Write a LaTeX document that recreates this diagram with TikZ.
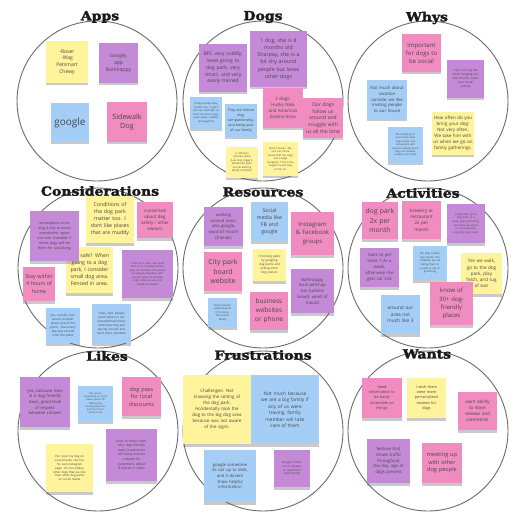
\documentclass[tikz,border=0pt]{standalone}
\usepackage{fontspec}
\usetikzlibrary{shadows}
\newfontfamily\notefont{Open Sans}
\newfontfamily\titlefont[FakeStretch=1.12, FakeBold=2.2]{DejaVu Serif}

\definecolor{noteyellow}{RGB}{255,243,155}
\definecolor{notepurple}{RGB}{197,138,215}
\definecolor{noteblue}{RGB}{165,206,246}
\definecolor{notepink}{RGB}{240,140,192}

\tikzset{
  ring/.style={circle, draw=black!58, line width=0.9pt, inner sep=0pt, minimum size=160pt},
  boardtitle/.style={inner sep=0pt, text=black!90, font=\titlefont\bfseries\fontsize{12.5}{13}\selectfont},
  note/.style={rectangle, inner sep=0pt, align=center, text=black!72,
    drop shadow={shadow xshift=0pt, shadow yshift=-2.5pt, opacity=0.35, fill=black!60}},
}

% \sticky{name}{x1}{y1}{x2}{y2}{colour}{font size}{text}
\newcommand\sticky[8]{%
  \pgfmathsetmacro\stcx{(#2+#4)/2}%
  \pgfmathsetmacro\stcy{(#3+#5)/2}%
  \pgfmathsetmacro\stw{#4-#2}%
  \pgfmathsetmacro\sth{#5-#3}%
  \pgfmathsetmacro\sttw{#4-#2-2}%
  \pgfmathsetmacro\stl{1.35*#7}%
  \node[note, fill=#6, minimum width=\stw pt, minimum height=\sth pt, text width=\sttw pt,
        font=\notefont\fontsize{#7pt}{\stl pt}\selectfont] (#1) at (\stcx,\stcy) {#8};}

\begin{document}
\begin{tikzpicture}[x=1pt, y=-1pt]
\useasboundingbox (0,0) rectangle (524,526);
\fill[white] (0,0) rectangle (524,526);

% the nine boards
\node[ring] (ringApps) at (97,101) {};
\node[ring] (ringDogs) at (263,101) {};
\node[ring] (ringWhys) at (428,101) {};
\node[ring] (ringCons) at (98,268) {};
\node[ring] (ringRes)  at (263,268) {};
\node[ring] (ringAct)  at (428,268) {};
\node[ring] (ringLikes) at (98,431) {};
\node[ring] (ringFru)  at (263,431) {};
\node[ring] (ringWants) at (428,431) {};

% Apps
\sticky{appA}{46}{41}{88}{83}{noteyellow}{5}{-Rover\\-Wag\\Petsmart\\Chewy}
\sticky{appB}{99}{43}{138}{83}{notepurple}{5}{Google,\\app\\Barkhappy}
\sticky{appC}{51}{103}{89}{142}{noteblue}{10}{google}
\sticky{appD}{107}{102}{147}{142}{notepink}{7.2}{Sidewalk\\Dog}

% Dogs
\sticky{dogA}{199}{44}{247}{92}{notepurple}{5}{BFF, very cuddly,\\loves going to\\dog park, very\\smart, and very\\easily trained}
\sticky{dogB}{250}{31}{307}{87}{notepurple}{5.3}{1 dog, she is 8\\months old\\Sharpay, she is a\\bit shy around\\people but loves\\other dogs}
\sticky{dogC}{263}{88}{303}{128}{notepink}{4.4}{2 dogs:\\Husky Nala\\and American\\Eskimo Enzo}
\sticky{dogD}{303}{98}{343}{138}{notepink}{5}{Our dogs\\follow us\\around and\\snuggle with\\us all the time}
\sticky{dogE}{190}{97}{222}{129}{noteblue}{2.6}{Chopy Hobby Zoey,\\Poodle mix, 7 years\\old, has lived with us\\since she was a pup,\\loves walks, cuddles\\and playtime}
\sticky{dogF}{225}{104}{257}{137}{noteblue}{3.6}{They are indoor\\dog,\\companionship,\\and being part\\of our family}
\sticky{dogG}{226}{147}{258}{178}{noteyellow}{2.6}{3: Winston\\(Terrier), Bella\\(Lab mix), Ziggy 3.\\Wonderful pups\\and all adoring\\family members}
\sticky{dogH}{263}{142}{298}{176}{noteyellow}{2.6}{Both rescues. We\\visit our home\\house that has dogs\\and a large\\backyard. That is the\\longest he will stay\\in the car.}

% Whys
\sticky{whyA}{402}{34}{441}{72}{notepink}{6}{important\\for dogs to\\be social}
\sticky{whyB}{447}{60}{484}{98}{notepurple}{3}{I like to bring her\\when hanging out\\with friends, helps\\your social\\anxiety}
\sticky{whyC}{367}{80}{407}{119}{noteblue}{4.3}{Not much about\\vacation\\outside, we like\\inviting people\\to our house}
\sticky{whyD}{432}{112}{474}{155}{noteyellow}{4.5}{How often do you\\bring your dog:\\Not very often.\\We take him with\\us when we go on\\family gatherings.}
\sticky{whyE}{388}{127}{423}{163}{noteblue}{2.5}{We mostly go to\\places that allow\\dogs inside, and\\restaurants with\\outdoor seating where\\dogs are allowed,\\usually near home}

% Considerations
\sticky{conA}{86}{196}{134}{243}{noteyellow}{5.2}{Conditions of\\the dog park\\matter too. I\\dont like places\\that are muddy}
\sticky{conB}{137}{202}{173}{238}{notepink}{4.4}{concerned\\about dog\\safety / other\\owners}
\sticky{conY}{66}{247}{113}{293}{noteyellow}{5.2}{Is it safe? When\\going to a dog\\park, I consider\\small dog area.\\Fenced in area.}
\sticky{conC}{30}{211}{79}{261}{notepurple}{3.6}{atmosphere since\\dog is shy to avoid\\overwhelm, space\\not over crowded, if\\other dogs will be\\there for socializing}
\sticky{conD}{23}{267}{55}{301}{notepink}{5.3}{Stay within\\4 hours of\\home}
\sticky{conE}{122}{250}{173}{298}{notepurple}{2.6}{I look for a safe, clean park\\that is not crowded, where\\dogs are friendly and owners\\are paying attention, with\\enough space for smaller\\dogs, a fenced area and\\shade for people}
\sticky{conF}{46}{308}{80}{343}{noteblue}{3}{yes, I would, but I\\would consider\\about size of the\\place - how many\\dog and sounds\\from the place}
\sticky{conG}{92}{304}{131}{343}{noteblue}{3}{Trees, safe, people\\place where is not\\overwhelmed them,\\otherwise they will\\pacing around and\\need more attention}

% Resources
\sticky{resA}{204}{207}{243}{246}{notepurple}{4.2}{walking\\around town,\\also google,\\word of mouth\\(friends)}
\sticky{resB}{251}{202}{288}{241}{noteblue}{5.2}{Social\\media like\\FB and\\google}
\sticky{resC}{291}{212}{334}{255}{notepink}{6}{Instagram\\\& Facebook\\groups}
\sticky{resD}{204}{252}{242}{291}{notepink}{7}{City park\\board\\website}
\sticky{resE}{253}{249}{286}{281}{noteyellow}{3}{I find dog parks\\by googling\\dog parks and\\asking other\\dog owners}
\sticky{resF}{291}{269}{334}{313}{notepurple}{4.3}{Barkhappy,\\local petshop\\has bulletin\\board, word of\\mouth}
\sticky{resG}{208}{298}{237}{327}{noteblue}{2.6}{Drive around,\\advertisement\\from store,\\friend and\\family}
\sticky{resH}{250}{292}{288}{330}{notepink}{6.5}{business\\websites\\or phone}

% Activities
\sticky{actA}{362}{202}{398}{239}{notepink}{6.8}{dog park\\2x per\\month}
\sticky{actB}{402}{201}{441}{239}{notepink}{4.6}{brewery or\\restaurant\\2x per\\month}
\sticky{actC}{447}{204}{485}{243}{notepurple}{2.7}{Long walks, go to\\dog park 1x a\\week, gets grooming,\\car rides, we visit a\\lot of breweries,\\enjoying long treats}
\sticky{actD}{360}{248}{399}{287}{notepurple}{4.3}{Goes to pet\\store 1-2x a\\week,\\otherwise she\\gets car sick}
\sticky{actE}{413}{246}{447}{280}{noteblue}{2.7}{No they mostly\\stay inside. Our\\schedule we are\\taking them to\\a park or vet or\\grooming}
\sticky{actF}{461}{253}{502}{294}{noteyellow}{4.6}{Yes we walk,\\go to the dog\\park, play\\fetch, and tug\\of war}
\sticky{actG}{430}{282}{473}{325}{notepink}{6}{know of\\30+ dog-\\friendly\\places}
\sticky{actH}{381}{295}{420}{334}{noteblue}{4.8}{around our\\area not\\much like 3}

% Likes
\sticky{likA}{20}{377}{70}{427}{notepurple}{4.2}{yes, because lives\\in a dog friendly\\town, good level\\of respect\\between citizens}
\sticky{likB}{78}{386}{113}{421}{noteblue}{2.4}{Yes, we do\\sometimes on social\\media, places for\\finding dog\\friendly places we\\got them from\\posts on FB}
\sticky{likC}{122}{377}{161}{416}{notepink}{5.6}{dog pass\\for local\\discounts}
\sticky{likD}{106}{429}{157}{481}{notepurple}{3.4}{Lives in small town,\\very dog friendly\\town, businesses\\will hang leashes\\outside for\\customers, about\\8 places in town}
\sticky{likE}{46}{444}{93}{492}{noteyellow}{2.9}{Yes I post my dog on\\social media, she has\\his own instagram\\page. I'm fun adding\\other dogs that we met\\from other dog parks\\on social media}

% Frustrations
\sticky{fruA}{183}{375}{251}{444}{noteyellow}{4.4}{Challenges: Not\\knowing the setting of\\the dog park.\\Accidentally took the\\dog to the big dog area\\because was not aware\\of the signs.}
\sticky{fruB}{251}{375}{319}{444}{noteblue}{4.8}{Not much because\\we are a big family if\\any of us were\\traving, family\\member will take\\care of them}
\sticky{fruC}{204}{450}{256}{502}{noteblue}{4.2}{google sometime\\its not up to date,\\and it dosent\\show helpful\\information}
\sticky{fruD}{274}{450}{310}{487}{notepurple}{2.8}{Google if there\\are no reviews\\or specified if\\dog friendly}

% Wants
\sticky{wanA}{362}{378}{402}{418}{notepink}{3.8}{need\\information to\\be easily\\accessible on\\the go}
\sticky{wanB}{407}{378}{446}{418}{noteyellow}{3.8}{I wish there\\were more\\personalized\\reviews for\\dogs}
\sticky{wanC}{458}{392}{497}{430}{notepink}{4.5}{want ability\\to leave\\reviews and\\comments}
\sticky{wanD}{367}{439}{410}{483}{notepurple}{4.3}{feature that\\shows traffic\\throughout\\the day, age of\\dogs present}
\sticky{wanE}{422}{443}{462}{483}{notepink}{5.6}{meeting up\\with other\\dog people}

% board titles
\node[boardtitle] (tApps)  at (100,17)  {Apps};
\node[boardtitle] (tDogs)  at (263,17)  {Dogs};
\node[boardtitle] (tWhys)  at (427,18)  {Whys};
\node[boardtitle] (tCons)  at (100,191) {Considerations};
\node[boardtitle] (tRes)   at (263,192) {Resources};
\node[boardtitle] (tAct)   at (423,193) {Activities};
\node[boardtitle] (tLikes) at (107,356) {Likes};
\node[boardtitle] (tFru)   at (263,355) {Frustrations};
\node[boardtitle] (tWants) at (427,354) {Wants};
\end{tikzpicture}
\end{document}
